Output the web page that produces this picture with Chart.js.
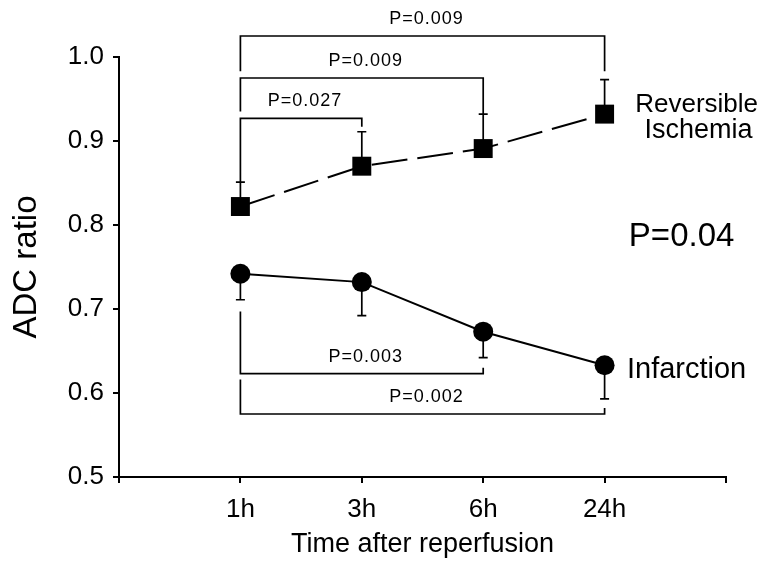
<!DOCTYPE html>
<html>
<head>
<meta charset="utf-8">
<title>ADC ratio after reperfusion</title>
<script src="https://cdn.jsdelivr.net/npm/chart.js@4/dist/chart.umd.min.js"></script>
<style>
  html, body { margin: 0; padding: 0; background: #ffffff; }
  #chart-wrap { width: 767px; height: 565px; }
</style>
</head>
<body>
<div id="chart-wrap">
  <canvas id="adc-chart" width="767" height="565"></canvas>
</div>
<script>
// Time points (x positions 1..4 on a 0..5 axis)
const timeLabels = ["1h", "3h", "6h", "24h"];
const timePositions = [1, 2, 3, 4];

// Reversible ischemia (squares, dashed) - error bars drawn upward
const reversibleMean = [0.822, 0.870, 0.891, 0.932];
const reversibleErr = [0.029, 0.041, 0.041, 0.041];

// Infarction (circles, solid) - error bars drawn downward
const infarctionMean = [0.742, 0.732, 0.673, 0.633];
const infarctionErr = [0.031, 0.040, 0.031, 0.040];

// Y axis ticks
const yTickValues = [0.5, 0.6, 0.7, 0.8, 0.9, 1.0];

// Significance brackets (x in time positions, y in ADC ratio units)
const bracketText = ["P=0.009", "P=0.009", "P=0.027", "P=0.003", "P=0.002"];
const bracketFrom = [1, 1, 1, 1, 1];
const bracketTo = [4, 3, 2, 3, 4];
const bracketLevel = [1.025, 0.975, 0.927, 0.623, 0.575];
const bracketLeftEnd = [0.983, 0.935, 0.851, 0.697, 0.616];
const bracketRightEnd = [0.983, 0.932, 0.917, 0.630, 0.582];

// Free text labels
const groupLabelTop = ["Reversible", "Ischemia"];
const groupLabelBottom = "Infarction";
const overallP = "P=0.04";

const FONT = "'Liberation Sans', Arial, Helvetica, sans-serif";

function toPoints(means) {
  return means.map((y, i) => ({ x: timePositions[i], y: y }));
}

// Draws error bars and significance brackets through the chart scales
const annotationPlugin = {
  id: "adcAnnotations",
  beforeDatasetsDraw(chart) {
    const ctx = chart.ctx;
    const xs = chart.scales.x;
    const ys = chart.scales.y;
    ctx.save();
    ctx.strokeStyle = "#000";
    ctx.lineWidth = 1.7;
    ctx.lineCap = "butt";

    const cap = 4.5;
    // error bars
    timePositions.forEach((t, i) => {
      const px = xs.getPixelForValue(t);
      // upward for reversible ischemia
      let y0 = ys.getPixelForValue(reversibleMean[i]);
      let y1 = ys.getPixelForValue(reversibleMean[i] + reversibleErr[i]);
      ctx.beginPath();
      ctx.moveTo(px, y0); ctx.lineTo(px, y1);
      ctx.moveTo(px - cap, y1); ctx.lineTo(px + cap, y1);
      ctx.stroke();
      // downward for infarction
      y0 = ys.getPixelForValue(infarctionMean[i]);
      y1 = ys.getPixelForValue(infarctionMean[i] - infarctionErr[i]);
      ctx.beginPath();
      ctx.moveTo(px, y0); ctx.lineTo(px, y1);
      ctx.moveTo(px - cap, y1); ctx.lineTo(px + cap, y1);
      ctx.stroke();
    });

    // brackets
    ctx.font = "18px " + FONT;
    ctx.fillStyle = "#000";
    ctx.textAlign = "center";
    ctx.textBaseline = "alphabetic";
    if ("letterSpacing" in ctx) ctx.letterSpacing = "1px";
    bracketText.forEach((txt, i) => {
      const xa = xs.getPixelForValue(bracketFrom[i]);
      const xb = xs.getPixelForValue(bracketTo[i]);
      const yl = ys.getPixelForValue(bracketLevel[i]);
      ctx.beginPath();
      ctx.moveTo(xa, ys.getPixelForValue(bracketLeftEnd[i]));
      ctx.lineTo(xa, yl);
      ctx.lineTo(xb, yl);
      ctx.lineTo(xb, ys.getPixelForValue(bracketRightEnd[i]));
      ctx.stroke();
      ctx.fillText(txt, (xa + xb) / 2 + 4, yl - 12);
    });
    ctx.restore();
  },
  afterDraw(chart) {
    const ctx = chart.ctx;
    const xs = chart.scales.x;
    const ys = chart.scales.y;
    const x24 = xs.getPixelForValue(timePositions[3]);
    ctx.save();
    ctx.fillStyle = "#000";
    ctx.textAlign = "center";
    ctx.textBaseline = "alphabetic";

    ctx.font = "26px " + FONT;
    ctx.fillText(groupLabelTop[0], x24 + 92, ys.getPixelForValue(0.9) - 29);
    ctx.font = "27px " + FONT;
    ctx.fillText(groupLabelTop[1], x24 + 94, ys.getPixelForValue(0.9) - 3);

    ctx.font = "33px " + FONT;
    ctx.fillText(overallP, x24 + 77, ys.getPixelForValue(0.8) + 21);

    ctx.font = "29px " + FONT;
    ctx.fillText(groupLabelBottom, x24 + 82, ys.getPixelForValue(0.6) - 15);
    ctx.restore();
  }
};

const axisGrid = {
  drawOnChartArea: false,
  drawTicks: true,
  tickLength: 6,
  color: "#000",
  lineWidth: 2
};

const ctx = document.getElementById("adc-chart");
const chart = new Chart(ctx, {
  type: "line",
  data: {
    datasets: [
      {
        label: "Reversible Ischemia",
        data: toPoints(reversibleMean),
        borderColor: "#000",
        backgroundColor: "#000",
        borderWidth: 2,
        borderDash: [36, 10],
        pointStyle: "rect",
        pointRadius: 13.4,
        pointBorderWidth: 0,
        tension: 0,
        clip: false
      },
      {
        label: "Infarction",
        data: toPoints(infarctionMean),
        borderColor: "#000",
        backgroundColor: "#000",
        borderWidth: 2,
        pointStyle: "circle",
        pointRadius: 10,
        pointBorderWidth: 0,
        tension: 0,
        clip: false
      }
    ]
  },
  options: {
    responsive: false,
    animation: false,
    devicePixelRatio: 1,
    layout: { padding: { left: 0, right: 41, top: 57, bottom: 0 } },
    plugins: {
      legend: { display: false },
      tooltip: { enabled: false }
    },
    scales: {
      x: {
        type: "linear",
        min: 0,
        max: 5,
        afterFit: (scale) => { scale.height = 88; },
        afterBuildTicks: (scale) => {
          scale.ticks = [0, 1, 2, 3, 4, 5].map((v) => ({ value: v }));
        },
        ticks: {
          color: "#000",
          padding: 11,
          maxRotation: 0,
          autoSkip: false,
          font: { family: FONT, size: 26 },
          callback: (v) => {
            const idx = timePositions.indexOf(v);
            return idx >= 0 ? timeLabels[idx] : "";
          }
        },
        grid: axisGrid,
        border: { display: true, color: "#000", width: 2 },
        title: {
          display: true,
          text: "Time after reperfusion",
          color: "#000",
          font: { family: FONT, size: 27 },
          padding: { top: 0, bottom: 4 }
        }
      },
      y: {
        type: "linear",
        min: 0.5,
        max: 1.0,
        afterFit: (scale) => { scale.width = 119; },
        afterBuildTicks: (scale) => {
          scale.ticks = yTickValues.map((v) => ({ value: v }));
        },
        ticks: {
          color: "#000",
          padding: 9,
          font: { family: FONT, size: 26 },
          callback: (v) => Number(v).toFixed(1)
        },
        grid: axisGrid,
        border: { display: true, color: "#000", width: 2 },
        title: {
          display: true,
          text: "ADC ratio",
          color: "#000",
          font: { family: FONT, size: 33 },
          padding: { top: 7, bottom: 0 }
        }
      }
    }
  },
  plugins: [annotationPlugin]
});
</script>
</body>
</html>
